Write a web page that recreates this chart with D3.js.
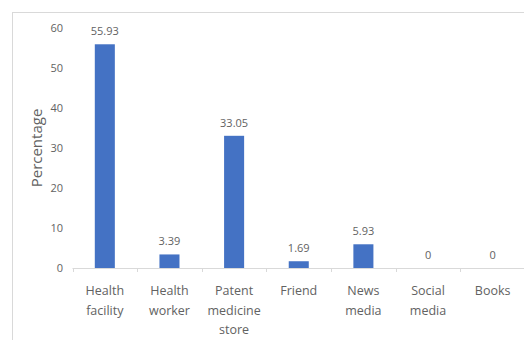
<!DOCTYPE html>
<html>
<head>
<meta charset="utf-8">
<script src="https://cdn.jsdelivr.net/npm/d3@7"></script>
<style>
  body { margin: 0; background: #fff; }
  text { font-family: "Open Sans", "Noto Sans", sans-serif; fill: #626262; }
</style>
</head>
<body>
<div id="chart"></div>
<script>
const categories = [["Health", "facility"], ["Health", "worker"], ["Patent", "medicine", "store"], ["Friend"], ["News", "media"], ["Social", "media"], ["Books"]];
const values = [55.93, 3.39, 33.05, 1.69, 5.93, 0, 0];
const yTicks = [0, 10, 20, 30, 40, 50, 60];

const width = 524, height = 340;
const margin = { top: 28, left: 72.5, bottom: 72 };
const plotRight = 525;

const svg = d3.select("#chart").append("svg")
  .attr("width", width)
  .attr("height", height);

// outer frame
svg.append("rect")
  .attr("x", 12.5).attr("y", 12.5)
  .attr("width", width).attr("height", height)
  .attr("fill", "none")
  .attr("stroke", "#d9d9d9");

const x = d3.scaleBand()
  .domain(d3.range(values.length))
  .range([margin.left, plotRight])
  .paddingInner(0.69)
  .paddingOuter(0.345);

const y = d3.scaleLinear()
  .domain([0, 60])
  .range([268, margin.top]);

// y labels
svg.selectAll(".ytick")
  .data(yTicks)
  .enter()
  .append("text")
  .attr("x", 63)
  .attr("y", d => y(d))
  .attr("dy", "0.35em")
  .attr("text-anchor", "end")
  .style("font-size", "11px")
  .text(d => d);

// baseline and category dividers
const step = (plotRight - margin.left) / values.length;
svg.append("line")
  .attr("x1", margin.left).attr("x2", plotRight)
  .attr("y1", y(0) + 0.5).attr("y2", y(0) + 0.5)
  .attr("stroke", "#d9d9d9");

svg.selectAll(".divider")
  .data(d3.range(values.length + 1))
  .enter()
  .append("line")
  .attr("x1", d => Math.round(margin.left + d * step) + 0.5)
  .attr("x2", d => Math.round(margin.left + d * step) + 0.5)
  .attr("y1", y(0))
  .attr("y2", y(0) + 4)
  .attr("stroke", "#d9d9d9");

// bars
svg.selectAll(".bar")
  .data(values)
  .enter()
  .append("rect")
  .attr("x", (d, i) => x(i))
  .attr("y", d => y(d))
  .attr("width", x.bandwidth())
  .attr("height", d => y(0) - y(d))
  .attr("fill", "#4472c4");

// value labels
svg.selectAll(".val")
  .data(values)
  .enter()
  .append("text")
  .attr("x", (d, i) => x(i) + x.bandwidth() / 2)
  .attr("y", d => y(d) - 9)
  .attr("text-anchor", "middle")
  .style("font-size", "11px")
  .text(d => d);

// category labels
const cat = svg.selectAll(".cat")
  .data(categories)
  .enter()
  .append("text")
  .attr("text-anchor", "middle")
  .style("font-size", "12.5px")
  .attr("transform", (d, i) => "translate(" + (x(i) + x.bandwidth() / 2) + ",295)");

cat.selectAll("tspan")
  .data(d => d)
  .enter()
  .append("tspan")
  .attr("x", 0)
  .attr("y", (d, i) => i * 19.5)
  .text(d => d);

// y axis title
svg.append("text")
  .attr("transform", "translate(42,148) rotate(-90)")
  .attr("text-anchor", "middle")
  .style("font-size", "15px")
  .text("Percentage");
</script>
</body>
</html>
